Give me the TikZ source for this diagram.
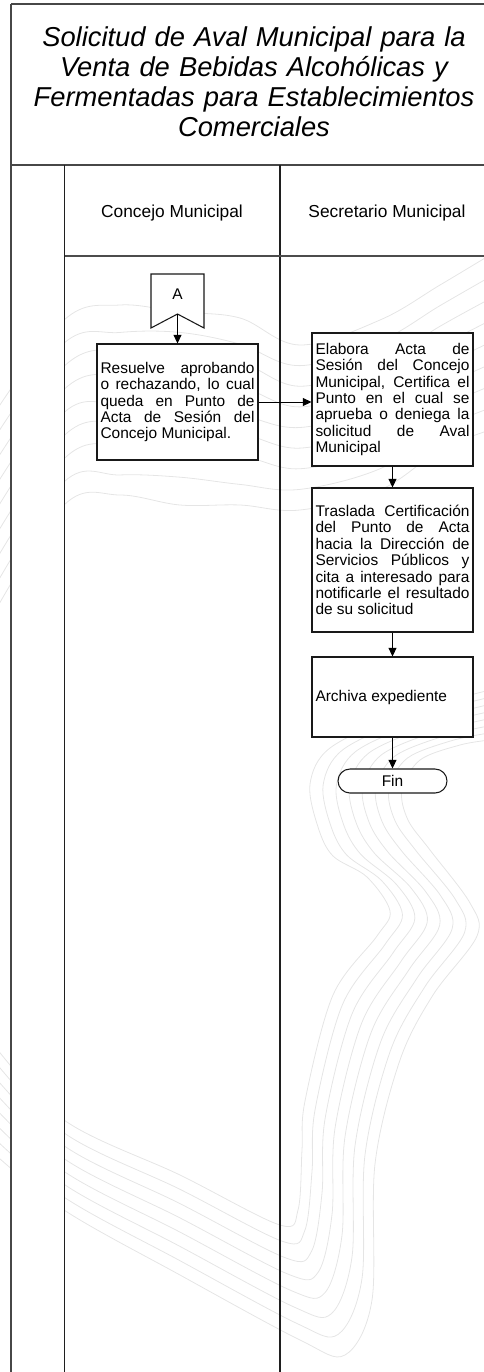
\documentclass[tikz,border=0pt]{standalone}
\usepackage{fontspec}
\setmainfont{Liberation Sans}
\usetikzlibrary{arrows.meta}
% justified box texts: allow wide spaces, no hyphenation
\tolerance=10000
\hyphenpenalty=10000
\hbadness=10000
\begin{document}
\begin{tikzpicture}[x=0.75pt,y=-0.75pt,
  wm/.style={draw=black!10, line width=0.6pt},
  border/.style={draw=black!72, line width=1.5pt},
  lane/.style={draw=black!88, line width=1pt},
  headline/.style={draw=black!70, line width=1pt},
  txt/.style={font=\fontsize{11.6pt}{12.3pt}\selectfont},
  proc/.style={txt, draw=black!90, line width=0.8pt, fill=white, rectangle,
    inner xsep=2.6pt, inner ysep=0pt, text width=115.5pt, minimum width=120.75pt,
    align=justify},
  lanehead/.style={font=\fontsize{13pt}{15pt}\selectfont, inner sep=0pt},
  arr/.style={draw=black, line width=0.75pt, -{Triangle[width=6pt,length=6.5pt]}},
]
\useasboundingbox (0,0) rectangle (484,1372);

% faint contour watermark: lower band
\foreach \t in {0,0.143,0.286,0.429,0.571,0.714,0.857,1}{
  \draw[wm] plot[smooth, tension=0.55] coordinates {
    ({-10},{1040+110*\t}) ({64},{1120+90*\t}) ({180},{1175+100*\t})
    ({280+20*\t},{1225+115*\t}) ({298+47*\t},{1210+145*\t}) ({302+70*\t},{1150+150*\t})
    ({305+70*\t},{1101+63*\t}) ({333+67*\t},{995+65*\t}) ({377+56*\t},{936+59*\t})
    ({390+87*\t},{911+25*\t}) ({367+103*\t},{877+26*\t}) ({333+97*\t},{856-6*\t})
    ({318+90*\t},{827-7*\t}) ({310+92*\t},{784+6*\t}) ({330+90*\t},{748+12*\t})
    ({400+60*\t},{715+30*\t}) ({490},{690+50*\t})};
}
% faint contour watermark: upper band
\foreach \t in {0,0.125,0.25,0.375,0.5,0.625,0.75,0.875,1}{
  \draw[wm] plot[smooth, tension=0.6] coordinates {
    ({-10},{420+200*\t}) ({64},{320+185*\t}) ({120},{305+190*\t+4*sin(900*\t)})
    ({180},{312+193*\t-4*sin(900*\t)}) ({240},{318+187*\t+3*sin(900*\t)})
    ({300},{345+165*\t}) ({380},{320+170*\t}) ({440},{285+165*\t}) ({490},{255+175*\t})};
}

% plain areas without watermark
\fill[white] (0,0) rectangle (490,256);
\fill[white] (11,165) rectangle (64.5,1380);

% frame and swimlanes
\draw[border] (11,4) -- (495,4);
\draw[border] (11,4) -- (11,1380);
\draw[border] (11,164.5) -- (495,164.5);
\draw[lane] (64.5,164.5) -- (64.5,1380);
\draw[lane] (280,164.5) -- (280,1380);
\draw[headline] (64.5,256) -- (495,256);

% title and lane headers
\node[anchor=north, inner sep=0pt, text width=352.5pt, align=center,
      font=\itshape\fontsize{20.5pt}{22.5pt}\selectfont] (title) at (254,26)
  {Solicitud de Aval Municipal para la\\ Venta de Bebidas Alcohólicas y\\
   Fermentadas para Establecimientos\\ Comerciales};
\node[lanehead] (h1) at (172,213) {Concejo Municipal};
\node[lanehead] (h2) at (387,213) {Secretario Municipal};

% off-page connector A
\draw[draw=black!90, line width=0.8pt, fill=white]
  (151,274) -- (204,274) -- (204,328) -- (177.5,314) -- (151,328) -- cycle;
\node[txt, inner sep=0pt] (A) at (177.5,294) {A};
\coordinate (Aout) at (177.5,314);

% process steps
\node[proc, minimum height=87pt] (b1) at (177.5,402)
  {Resuelve aprobando\linebreak o rechazando, lo cual\linebreak queda en Punto de\linebreak
   Acta de Sesión del\linebreak Concejo Municipal.};
\node[proc, minimum height=99.75pt] (b2) at (392.5,399.5)
  {Elabora Acta de\linebreak Sesión del Concejo\linebreak Municipal, Certifica el\linebreak
   Punto en el cual se\linebreak aprueba o deniega la\linebreak solicitud de Aval\linebreak Municipal};
\node[proc, minimum height=108pt] (b3) at (392.5,560)
  {Traslada Certificación\linebreak del Punto de Acta\linebreak hacia la Dirección de\linebreak
   Servicios Públicos y\linebreak cita a interesado para\linebreak notificarle el resultado\linebreak
   de su solicitud};
\node[proc, minimum height=60pt] (b4) at (392.5,697) {Archiva expediente};
\node[txt, draw=black!90, line width=0.8pt, fill=white, rounded corners=9pt,
      minimum width=81.75pt, minimum height=18pt, inner sep=0pt] (fin) at (392.5,781) {Fin};

% connectors
\draw[arr] (Aout) -- (b1.north);
\draw[arr] (b1.east) -- (b1.east -| b2.west);
\draw[arr] (b2.south) -- (b3.north);
\draw[arr] (b3.south) -- (b4.north);
\draw[arr] (b4.south) -- (fin.north);
\end{tikzpicture}
\end{document}
